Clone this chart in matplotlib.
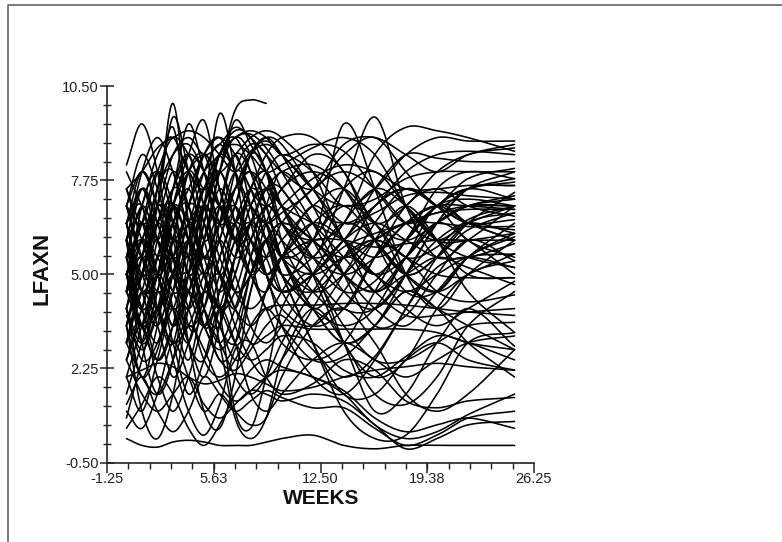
import numpy as np
import matplotlib
matplotlib.use("Agg")
import matplotlib.pyplot as plt
from matplotlib.lines import Line2D
from matplotlib.ticker import FixedLocator

nan = np.nan
# visit weeks (knots) shared by all subjects
weeks = [0, 1, 2, 3, 4, 5, 6, 7, 8, 9, 10, 12, 14, 16, 18, 20, 22, 25]

c01 = [5.5, 4.0, 6.5, 7.0, 5.0, 6.0, 8.0, 9.8, 10.1, 10.0, nan, nan, nan, nan, nan, nan, nan, nan]
c02 = [8.2, 9.4, 8.0, 5.5, 4.0, 6.5, 8.0, 6.5, 5.0, 4.5, 5.5, 7.0, 6.0, 4.5, 5.5, 7.0, 6.5, 6.0]
c03 = [4.5, 6.0, 7.0, 10.0, 6.5, 3.5, 4.5, 6.5, 7.5, 7.0, 5.5, 4.0, 5.0, 6.5, 7.5, 7.0, 6.0, 5.5]
c04 = [3.5, 5.0, 7.0, 6.0, 4.5, 7.0, 9.7, 8.0, 5.5, 4.0, 4.5, 6.0, 7.0, 6.5, 5.0, 4.5, 5.5, 6.5]
c05 = [7.5, 8.0, 8.7, 9.0, 9.2, 9.0, 8.5, 8.0, 8.6, 8.9, 8.5, 7.5, 6.0, 5.0, 5.5, 6.5, 7.0, 7.2]
c06 = [6.0, 4.0, 5.0, 7.0, 8.0, 6.5, 5.0, 6.0, 7.5, 8.0, 7.0, 6.0, 9.4, 7.5, 5.0, 4.0, 5.0, 6.0]
c07 = [5.0, 6.5, 5.0, 4.0, 6.0, 7.5, 6.5, 5.5, 6.0, 7.0, 6.5, 5.5, 7.5, 9.6, 7.0, 5.5, 6.0, 7.0]
c08 = [4.0, 5.5, 6.5, 7.0, 6.0, 5.5, 6.5, 7.5, 8.0, 7.5, 6.5, 6.0, 6.5, 8.5, 9.3, 9.2, 9.0, 8.6]
c09 = [6.5, 7.0, 5.0, 6.0, 8.0, 8.5, 7.0, 6.0, 7.0, 8.0, 8.5, 8.0, 7.0, 7.5, 8.5, 9.0, 8.9, 8.9]
c10 = [5.0, 3.5, 5.5, 7.0, 8.0, 8.5, 8.0, 8.5, 9.0, 9.2, 9.0, 8.0, 6.0, 5.0, 6.0, 7.5, 8.0, 7.8]
c11 = [0.2, 0.0, -0.05, 0.1, 0.15, 0.1, 0.0, 0.0, 0.0, 0.1, 0.2, 0.3, 0.0, -0.1, 0.0, 0.0, 0.0, 0.0]
c12 = [2.5, 1.5, 1.0, 1.5, 2.0, 1.2, 0.8, 1.2, 1.6, 1.5, 1.3, 1.5, 1.3, 0.6, -0.1, 0.2, 0.6, 0.7]
c13 = [1.2, 2.0, 1.0, 0.4, 1.0, 2.0, 1.5, 1.0, 1.3, 1.6, 1.4, 1.1, 1.1, 0.5, 0.0, 0.3, 0.8, 1.0]
c14 = [3.0, 2.0, 1.5, 2.5, 3.5, 2.8, 1.8, 1.3, 1.6, 2.0, 2.2, 2.0, 1.5, 0.6, 0.2, 0.4, 0.9, 1.5]
c15 = [0.5, 1.2, 2.0, 1.5, 0.5, 0.0, 0.6, 1.5, 2.2, 2.5, 2.3, 2.0, 1.6, 0.8, 0.4, 0.6, 0.8, 0.5]
c16 = [2.0, 2.2, 2.4, 2.3, 2.0, 1.8, 1.9, 2.1, 2.0, 1.8, 1.6, 1.7, 2.0, 2.2, 2.3, 2.4, 2.3, 2.2]
c17 = [1.0, 0.5, 1.5, 3.0, 2.0, 1.0, 1.5, 1.0, 0.6, 0.8, 2.0, 3.5, 4.0, 3.0, 1.5, 1.0, 1.5, 2.8]
c18 = [3.5, 1.0, 0.2, 1.5, 4.0, 5.0, 3.0, 0.8, 0.2, 0.8, 2.5, 4.0, 3.0, 1.5, 1.2, 2.0, 3.5, 4.5]
c19 = [4.0, 2.0, 3.5, 5.5, 3.0, 1.0, 0.5, 2.0, 4.5, 6.0, 5.0, 3.0, 1.0, 0.2, 0.3, 1.5, 3.0, 3.3]
c20 = [6.0, 3.0, 1.5, 2.5, 5.0, 7.0, 4.0, 1.0, 0.5, 2.0, 4.0, 5.0, 3.0, 1.0, 1.5, 3.0, 4.0, 2.9]
c21 = [5.0, 6.5, 4.0, 3.0, 5.5, 7.5, 6.0, 4.5, 5.0, 6.0, 6.5, 6.0, 5.0, 4.5, 5.5, 6.5, 7.0, 7.0]
c22 = [6.5, 5.0, 7.5, 9.3, 6.5, 4.5, 5.5, 7.0, 8.5, 8.0, 6.0, 4.5, 4.0, 5.5, 7.0, 7.5, 7.0, 6.7]
c23 = [4.5, 7.0, 8.0, 6.5, 3.5, 4.0, 6.5, 8.0, 7.5, 6.0, 5.0, 5.5, 6.5, 6.0, 5.0, 5.5, 6.5, 7.4]
c24 = [3.0, 4.5, 6.0, 4.0, 2.5, 4.5, 7.0, 8.5, 7.0, 5.0, 4.0, 3.5, 4.5, 6.0, 7.0, 6.0, 4.5, 3.3]
c25 = [7.0, 5.5, 4.0, 6.0, 8.0, 7.0, 5.0, 4.0, 5.5, 7.0, 8.0, 7.0, 5.0, 3.5, 3.8, 5.0, 6.0, 5.4]
c26 = [5.5, 3.5, 4.5, 7.0, 8.5, 9.5, 7.5, 6.0, 6.5, 7.5, 7.0, 5.5, 4.5, 4.8, 6.0, 7.0, 7.5, 7.7]
c27 = [2.5, 4.0, 5.5, 5.0, 3.0, 2.5, 4.0, 5.5, 6.5, 6.0, 5.0, 4.0, 3.5, 4.0, 5.5, 6.5, 6.0, 5.0]
c28 = [6.0, 7.5, 6.0, 4.5, 5.0, 6.5, 8.5, 9.0, 8.0, 6.5, 5.0, 4.5, 5.5, 7.0, 7.5, 7.0, 6.5, 6.6]
c29 = [4.0, 3.0, 4.5, 6.5, 7.0, 5.0, 3.5, 3.0, 4.5, 6.0, 5.5, 4.0, 3.0, 3.5, 4.5, 4.0, 3.5, 2.8]
c30 = [7.5, 6.0, 5.0, 6.5, 7.5, 6.0, 4.5, 5.5, 7.0, 7.5, 7.0, 6.5, 6.0, 5.5, 6.0, 7.0, 7.5, 7.2]
c31 = [5.0, 4.0, 2.5, 3.5, 6.0, 7.5, 8.5, 8.0, 6.5, 5.0, 4.5, 5.0, 6.0, 6.5, 6.0, 5.5, 5.5, 5.9]
c32 = [3.5, 5.5, 7.5, 8.0, 6.0, 4.0, 3.0, 4.0, 5.5, 6.5, 6.0, 5.0, 4.0, 4.0, 5.0, 6.0, 6.5, 6.2]
c33 = [6.5, 8.0, 7.0, 5.0, 4.0, 5.0, 6.0, 5.0, 3.5, 3.0, 3.5, 5.0, 6.5, 7.5, 7.0, 6.0, 5.0, 4.9]
c34 = [4.5, 5.0, 6.5, 7.5, 8.5, 8.0, 7.0, 7.5, 8.0, 7.0, 5.5, 4.0, 3.0, 3.5, 5.0, 6.5, 7.5, 8.0]
c35 = [5.5, 6.0, 5.0, 4.0, 4.5, 5.5, 5.0, 4.0, 3.5, 4.0, 4.1, 4.1, 4.15, 4.15, 4.1, 4.0, 3.9, 3.8]
c36 = [3.0, 4.5, 3.5, 2.0, 3.0, 4.5, 5.0, 4.0, 3.0, 3.2, 3.5, 3.4, 3.4, 3.4, 3.4, 3.3, 3.0, 2.8]
c37 = [6.0, 4.5, 5.5, 7.0, 6.0, 5.0, 6.0, 7.5, 8.5, 8.8, 8.5, 7.5, 7.0, 7.2, 7.8, 8.0, 8.0, 8.0]
c38 = [7.0, 8.5, 7.5, 6.0, 6.5, 8.0, 8.8, 8.0, 7.0, 6.5, 7.0, 7.8, 8.2, 8.0, 7.5, 7.5, 7.6, 7.6]
c39 = [5.0, 3.0, 4.0, 6.0, 5.0, 3.5, 4.5, 6.0, 6.5, 5.5, 4.5, 5.0, 6.0, 7.0, 7.5, 7.0, 6.5, 6.3]
c40 = [4.0, 6.0, 5.0, 3.5, 5.0, 7.0, 6.0, 4.5, 4.0, 4.5, 5.5, 6.5, 6.0, 5.0, 4.5, 5.0, 5.5, 5.6]
c41 = [6.0, 5.0, 7.0, 9.6, 8.0, 6.0, 7.0, 8.5, 8.0, 6.5, 5.5, 6.0, 7.5, 8.0, 7.0, 6.0, 5.5, 5.2]
c42 = [3.5, 5.0, 4.0, 3.0, 4.0, 6.0, 8.0, 9.0, 8.5, 7.0, 5.5, 4.5, 5.0, 6.0, 6.5, 6.8, 7.0, 7.0]
c43 = [7.0, 6.5, 8.0, 9.0, 8.5, 7.5, 8.0, 9.5, 8.8, 8.0, 7.0, 6.0, 5.5, 6.0, 6.5, 6.5, 6.4, 6.4]
c44 = [2.0, 3.5, 5.0, 4.0, 3.0, 4.5, 3.5, 2.5, 3.0, 4.5, 5.5, 5.0, 3.5, 2.5, 2.5, 3.0, 3.5, 3.6]
c45 = [5.5, 7.0, 6.0, 5.5, 7.0, 8.5, 7.5, 6.0, 5.0, 5.5, 6.5, 7.5, 8.0, 7.5, 6.5, 6.0, 6.5, 7.0]
c46 = [4.0, 2.5, 3.0, 4.5, 5.5, 4.0, 2.5, 3.0, 5.0, 6.0, 6.5, 6.0, 5.0, 4.0, 3.5, 4.5, 5.5, 6.1]
c47 = [6.5, 5.0, 5.5, 7.0, 6.5, 5.5, 6.5, 7.0, 6.0, 5.0, 5.5, 6.5, 7.0, 6.0, 5.0, 4.5, 5.0, 5.6]
c48 = [8.0, 7.0, 6.0, 7.5, 9.4, 8.0, 6.5, 7.0, 8.5, 9.0, 8.5, 7.0, 6.5, 7.0, 8.0, 8.5, 8.6, 8.5]
c49 = [5.0, 6.5, 8.0, 7.0, 5.0, 6.0, 7.5, 6.5, 5.5, 5.0, 5.5, 6.0, 6.0, 5.8, 5.9, 6.0, 6.0, 6.0]
c50 = [3.0, 5.0, 6.5, 5.5, 4.5, 3.5, 5.0, 6.5, 7.0, 6.0, 4.5, 3.5, 4.0, 5.5, 6.5, 7.0, 7.0, 6.9]
c51 = [7.0, 5.5, 6.5, 8.0, 7.0, 5.0, 4.0, 5.0, 6.5, 7.5, 7.5, 6.0, 4.5, 4.0, 5.0, 6.5, 7.5, 7.6]
c52 = [4.5, 6.5, 5.0, 3.5, 4.5, 6.0, 7.0, 6.0, 5.0, 4.0, 3.0, 2.5, 3.0, 4.5, 6.0, 7.0, 7.2, 7.0]
c53 = [6.0, 8.0, 9.0, 8.0, 6.5, 7.0, 8.5, 9.2, 9.0, 8.0, 6.5, 5.5, 6.0, 7.5, 8.5, 8.4, 8.3, 8.3]
c54 = [5.5, 4.0, 3.0, 4.5, 6.5, 5.5, 4.0, 4.5, 6.0, 7.0, 6.5, 5.5, 5.0, 5.5, 6.5, 7.0, 6.5, 6.0]
c55 = [4.5, 3.5, 5.0, 6.5, 5.5, 4.0, 3.5, 5.5, 7.5, 8.0, 7.0, 5.0, 3.0, 2.0, 2.5, 4.0, 5.0, 5.4]
c56 = [6.5, 7.5, 6.5, 5.5, 6.0, 7.5, 8.0, 7.0, 6.0, 5.5, 6.0, 7.0, 7.5, 6.5, 5.5, 5.8, 6.6, 7.0]
c57 = [3.5, 2.0, 2.8, 4.5, 5.0, 3.5, 2.8, 3.5, 5.0, 6.0, 5.0, 3.0, 1.5, 1.5, 2.5, 3.0, 2.5, 2.2]
c58 = [5.0, 5.5, 4.5, 5.0, 6.0, 5.0, 4.0, 5.0, 6.5, 6.5, 5.5, 5.0, 5.5, 6.0, 5.5, 5.0, 4.9, 4.9]
c59 = [2.0, 1.0, 2.5, 4.0, 3.0, 2.0, 3.5, 5.5, 6.0, 5.0, 3.5, 2.0, 1.5, 2.5, 4.0, 5.5, 6.5, 6.8]
c60 = [6.5, 4.5, 3.5, 5.0, 7.0, 6.5, 5.0, 3.5, 2.5, 2.0, 2.5, 4.0, 5.5, 6.0, 5.5, 4.5, 4.2, 4.4]
c61 = [1.5, 3.0, 4.5, 3.0, 1.5, 2.5, 4.0, 3.0, 1.5, 1.0, 1.5, 2.5, 3.0, 2.5, 2.0, 2.5, 3.0, 3.2]
c62 = [0.8, 2.5, 4.0, 2.5, 1.0, 0.3, 1.2, 2.8, 3.0, 2.0, 1.5, 1.8, 2.5, 2.2, 1.3, 1.1, 1.3, 1.4]
c63 = [6.0, 7.0, 8.5, 9.0, 8.0, 7.5, 8.5, 9.0, 9.2, 9.0, 8.5, 8.8, 8.6, 7.5, 6.5, 7.0, 7.8, 8.1]
c64 = [7.5, 6.5, 7.0, 8.5, 9.0, 8.5, 8.8, 9.3, 9.0, 8.5, 8.0, 7.5, 8.5, 9.0, 8.0, 7.0, 7.5, 7.8]
c65 = [5.0, 6.0, 7.5, 8.5, 8.8, 8.0, 7.0, 6.5, 7.5, 8.5, 9.0, 9.0, 8.0, 6.5, 6.0, 6.5, 7.0, 7.3]
c66 = [4.0, 5.5, 7.0, 6.5, 5.5, 7.0, 8.5, 8.8, 8.5, 8.0, 8.2, 8.7, 9.0, 8.5, 7.0, 6.0, 6.0, 6.2]
c67 = [6.5, 4.5, 5.0, 6.5, 7.5, 8.5, 9.0, 8.5, 7.5, 7.0, 7.5, 8.5, 8.0, 6.0, 4.5, 4.5, 5.5, 6.2]
c68 = [7.0, 8.0, 7.0, 6.0, 7.0, 8.5, 9.0, 8.0, 7.0, 6.5, 6.8, 7.5, 8.8, 9.0, 8.5, 8.0, 8.5, 8.8]
c69 = [3.0, 4.0, 6.0, 7.5, 7.0, 5.5, 6.0, 8.0, 8.8, 8.5, 7.5, 6.5, 5.5, 4.5, 3.8, 3.8, 3.9, 4.0]
c70 = [5.5, 7.5, 6.5, 5.0, 6.0, 7.5, 7.0, 6.0, 6.5, 7.5, 8.0, 8.2, 7.5, 6.0, 5.0, 5.5, 6.3, 6.8]
c71 = [4.5, 3.5, 4.0, 5.5, 7.0, 8.0, 8.5, 9.0, 9.1, 8.7, 8.0, 6.5, 5.0, 4.5, 5.0, 5.5, 5.2, 4.7]
c72 = [6.0, 5.0, 4.0, 5.0, 6.5, 7.0, 6.5, 7.5, 8.5, 9.0, 8.8, 7.5, 6.5, 6.8, 7.3, 7.4, 7.3, 7.2]
c73 = [5.0, 6.0, 5.5, 4.5, 3.5, 4.0, 5.5, 6.5, 6.0, 5.0, 4.5, 5.0, 5.8, 6.2, 6.5, 6.8, 6.9, 6.9]
c74 = [2.5, 3.5, 2.0, 1.0, 2.0, 3.5, 3.0, 2.0, 1.5, 2.0, 3.0, 4.5, 5.5, 5.0, 4.0, 3.5, 4.0, 4.8]
c75 = [6.0, 4.0, 5.0, 7.5, 8.5, 7.0, 5.5, 4.5, 5.0, 6.5, 7.5, 8.0, 7.5, 6.5, 7.0, 8.0, 8.5, 8.7]
c76 = [4.5, 5.5, 4.0, 3.0, 3.5, 4.5, 4.0, 3.0, 2.5, 2.8, 3.2, 3.0, 2.2, 2.0, 2.6, 3.2, 3.0, 2.5]
c77 = [5.0, 3.5, 2.5, 3.5, 4.5, 3.5, 2.5, 2.2, 2.8, 3.5, 3.8, 2.8, 2.0, 2.6, 4.0, 5.2, 5.5, 5.2]
c78 = [3.8, 2.8, 3.8, 5.0, 4.0, 2.5, 2.0, 2.5, 3.5, 4.0, 3.5, 2.5, 2.6, 3.5, 4.5, 4.0, 3.0, 2.0]

subjects = [c01, c02, c03, c04, c05, c06, c07, c08, c09, c10, c11, c12, c13, c14, c15,
            c16, c17, c18, c19, c20, c21, c22, c23, c24, c25, c26, c27, c28, c29, c30,
            c31, c32, c33, c34, c35, c36, c37, c38, c39, c40, c41, c42, c43, c44, c45,
            c46, c47, c48, c49, c50, c51, c52, c53, c54, c55, c56, c57, c58, c59, c60,
            c61, c62, c63, c64, c65, c66, c67, c68, c69, c70, c71, c72, c73, c74, c75,
            c76, c77, c78]

xticks = [-1.25, 5.63, 12.50, 19.38, 26.25]
yticks = [-0.50, 2.25, 5.00, 7.75, 10.50]
xlabel = "WEEKS"
ylabel = "LFAXN"


def smooth(t, y, n=25):
    """Cubic Hermite (Catmull-Rom style) curve through the knots."""
    t = np.asarray(t, float)
    y = np.asarray(y, float)
    ok = ~np.isnan(y)
    t, y = t[ok], y[ok]
    m = np.zeros_like(y)
    m[1:-1] = (y[2:] - y[:-2]) / (t[2:] - t[:-2])
    m[0] = (y[1] - y[0]) / (t[1] - t[0])
    m[-1] = (y[-1] - y[-2]) / (t[-1] - t[-2])
    xs, ys = [], []
    for i in range(len(t) - 1):
        h = t[i + 1] - t[i]
        s = np.linspace(0, 1, n, endpoint=(i == len(t) - 2))
        h00 = 2 * s**3 - 3 * s**2 + 1
        h10 = s**3 - 2 * s**2 + s
        h01 = -2 * s**3 + 3 * s**2
        h11 = s**3 - s**2
        xs.append(t[i] + s * h)
        ys.append(h00 * y[i] + h10 * h * m[i] + h01 * y[i + 1] + h11 * h * m[i + 1])
    return np.concatenate(xs), np.concatenate(ys)


W, H = 782, 542
fig = plt.figure(figsize=(W / 100, H / 100), dpi=100)
ax = fig.add_axes([107 / W, 1 - 462.5 / H, (534 - 107) / W, (462.5 - 86.3) / H])

for subj in subjects:
    xs, ys = smooth(weeks, subj)
    ax.plot(xs, ys, color="black", lw=1.15, solid_capstyle="round")

ax.set_xlim(-1.25, 26.25)
ax.set_ylim(-0.5, 10.5)
ax.xaxis.set_major_locator(FixedLocator(xticks))
ax.yaxis.set_major_locator(FixedLocator(yticks))
ax.set_xticklabels([f"{v:.2f}" for v in xticks])
ax.set_yticklabels([f"{v:.2f}" for v in yticks])
ax.xaxis.set_minor_locator(FixedLocator(np.arange(-1.25, 26.26, 1.375)))
ax.yaxis.set_minor_locator(FixedLocator(np.arange(-0.5, 10.51, 0.55)))

for side in ["top", "right"]:
    ax.spines[side].set_visible(False)
for side in ["left", "bottom"]:
    ax.spines[side].set_linewidth(1.2)
    ax.spines[side].set_color("#222222")

ax.tick_params(axis="x", which="major", direction="out", length=7, width=1.1, pad=-0.5,
               labelsize=10.5, colors="#222222")
ax.tick_params(axis="x", which="minor", direction="out", length=4, width=1.0, colors="#222222")
ax.tick_params(axis="y", which="major", direction="inout", length=10, width=1.1, pad=1,
               labelsize=10.5, colors="#222222")
ax.tick_params(axis="y", which="minor", direction="inout", length=6, width=1.0, colors="#222222")
for lab in ax.get_xticklabels() + ax.get_yticklabels():
    lab.set_family(["Liberation Sans Narrow", "Liberation Sans", "DejaVu Sans"])

fig.text(321 / W, 1 - 498 / H, xlabel, ha="center", va="center", fontsize=15,
         fontweight="bold", family=["Liberation Sans", "DejaVu Sans"], color="#111111")
fig.text(42 / W, 1 - 268 / H, ylabel, ha="center", va="center", fontsize=16,
         fontweight="bold", rotation=90, family=["Liberation Sans", "DejaVu Sans"],
         color="#111111")

# outer frame (left and top edges visible)
fig.add_artist(Line2D([8 / W, 8 / W, 1.0], [0.0, 1 - 5 / H, 1 - 5 / H],
                      transform=fig.transFigure, color="#666666", lw=1.2))

fig.savefig("out.png", dpi=100)
